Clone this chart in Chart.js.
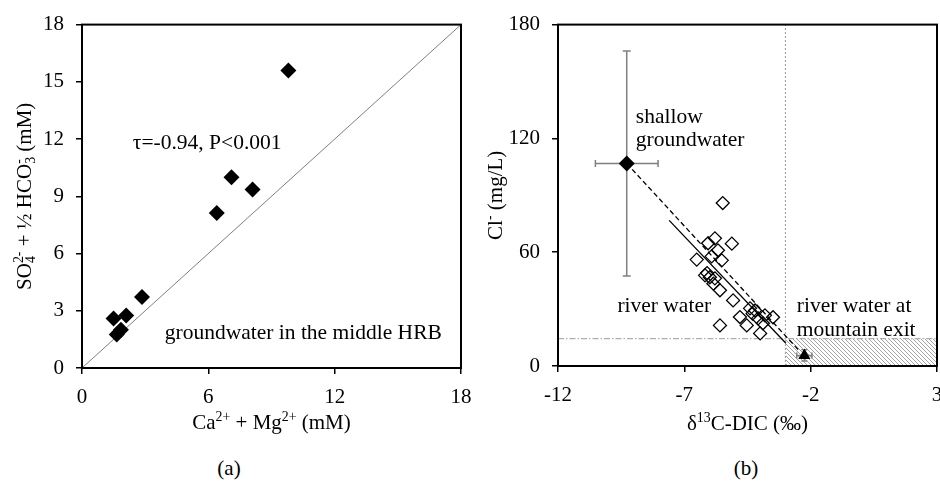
<!DOCTYPE html>
<html>
<head>
<meta charset="utf-8">
<script src="https://cdn.jsdelivr.net/npm/chart.js@4/dist/chart.umd.min.js"></script>
<style>
html, body { margin: 0; padding: 0; background: #fff; width: 940px; height: 492px; overflow: hidden; }
canvas { position: absolute; top: 0; }
#chartA { left: 0; }
#chartB { left: 470px; }
.cap { position: absolute; top: 456px; font: 21px 'Liberation Serif', serif; color: #000; transform: translateX(-50%); }
</style>
</head>
<body>
<canvas id="chartA" width="500" height="450"></canvas>
<canvas id="chartB" width="500" height="450"></canvas>
<div class="cap" style="left:229px">(a)</div>
<div class="cap" style="left:746px">(b)</div>
<script>
// ===== DATA (a) =====
const caMg = [9.8, 7.1, 8.1, 6.4, 2.85, 1.5, 2.1, 1.85, 1.65];
const so4Hco3 = [15.6, 10.0, 9.35, 8.13, 3.72, 2.6, 2.75, 2.0, 1.75];
const oneToOne = [0, 18];
const ticksA = [0, 6, 12, 18];
const ticksAY = [0, 3, 6, 9, 12, 15, 18];

// ===== DATA (b) =====
const riverD13C = [-5.48, -5.79, -6.06, -5.12, -5.67, -6.51, -5.52, -6.18, -5.99, -5.79, -5.59, -5.07, -4.40, -4.20,
  -4.80, -4.08, -3.81, -3.49, -3.89, -5.59, -4.53, -4.00, -5.92, -6.10, -5.85, -4.30];
const riverCl = [85.9, 67.3, 64.7, 64.5, 61.0, 56.1, 55.7, 47.8, 46.8, 46.2, 39.9, 34.6, 30.4, 29.3,
  25.8, 25.1, 26.7, 25.7, 22.5, 21.4, 21.4, 17.2, 57.8, 49.0, 43.4, 27.6];
const gwD13C = [-9.28], gwCl = [106.8], gwD13CErr = [1.24], gwClErr = [59.3];
const exitD13C = [-2.25], exitCl = [5.6], exitD13CErr = [0.3], exitClErr = [3];
const mixLineX = [-9.28, -2.45], mixLineY = [106.8, 8.0];
const fitLineX = [-7.6, -2.98], fitLineY = [76.8, 12.0];
const exitBoundD13C = -3, exitBoundCl = 14.4;
const ticksB = [-12, -7, -2, 3];
const ticksBY = [0, 60, 120, 180];

const FONT = "'Liberation Serif', serif";
const SIZE = 21;
const pts = (xs, ys) => xs.map((x, i) => ({ x, y: ys[i] }));

// rich text: [text, shift(-1 sub, 0 normal, 1 sup), stackOnPrev]
function drawRich(ctx, parts, cx, cy, rot) {
  ctx.save(); ctx.translate(cx, cy); ctx.rotate(rot);
  ctx.fillStyle = '#000'; ctx.textBaseline = 'alphabetic'; ctx.textAlign = 'left';
  const fontOf = p => (p[1] ? SIZE * 0.66 : SIZE) + 'px ' + FONT;
  let x = 0, prevX = 0, prevW = 0;
  const placed = parts.map(p => {
    ctx.font = fontOf(p);
    const w = ctx.measureText(p[0]).width;
    let px;
    if (p[2]) { px = prevX; x = prevX + Math.max(prevW, w); }
    else { px = x; x += w; }
    prevX = px; prevW = w;
    return { p, px };
  });
  const total = x;
  placed.forEach(({ p, px }) => {
    ctx.font = fontOf(p);
    const dy = p[1] === 1 ? -SIZE * 0.38 : p[1] === -1 ? SIZE * 0.2 : 0;
    ctx.fillText(p[0], px - total / 2, SIZE * 0.33 + dy);
  });
  ctx.restore();
}

// frame, axis titles and text notes
const frame = {
  id: 'frame',
  afterDatasetsDraw(chart) {
    const { ctx, chartArea: a } = chart;
    ctx.save(); ctx.strokeStyle = '#000'; ctx.lineWidth = 2;
    ctx.strokeRect(a.left, a.top, a.width, a.height); ctx.restore();
  },
  afterDraw(chart, args, opts) {
    const { ctx, scales, chartArea: a } = chart;
    ctx.save(); ctx.fillStyle = '#000'; ctx.font = '21.5px ' + FONT;
    ctx.textAlign = 'left'; ctx.textBaseline = 'middle';
    (opts.notes || []).forEach(n => ctx.fillText(n.text, scales.x.getPixelForValue(n.x), scales.y.getPixelForValue(n.y)));
    ctx.restore();
    drawRich(ctx, opts.xTitle, (a.left + a.right) / 2, opts.xTitleY, 0);
    drawRich(ctx, opts.yTitle, opts.yTitleX, (a.top + a.bottom) / 2, -Math.PI / 2);
  }
};

function axis(min, max, list, fitSize, horiz) {
  return {
    type: 'linear', min, max,
    afterBuildTicks: s => { s.ticks = list.map(v => ({ value: v })); },
    afterFit: s => { if (horiz) s.height = fitSize; else s.width = fitSize; },
    ticks: { color: '#000', font: { family: FONT, size: SIZE }, padding: horiz ? 11 : 12 },
    grid: { drawOnChartArea: false, drawTicks: true, tickLength: 6, color: '#000', lineWidth: 1.5 },
    border: { display: true, color: '#000', width: 2 },
    title: { display: false }
  };
}

function lineSet(data, color, width, dash) {
  return { data, showLine: true, borderColor: color, borderWidth: width, borderDash: dash || [], pointRadius: 0, fill: false };
}

// ===== CHART (a) =====
new Chart(document.getElementById('chartA'), {
  type: 'scatter',
  data: {
    datasets: [
      { data: pts(caMg, so4Hco3), pointStyle: 'rectRot', pointRadius: 8, backgroundColor: '#000', borderColor: '#000', borderWidth: 0 },
      lineSet(pts(oneToOne, oneToOne), '#7f7f7f', 1)
    ]
  },
  options: {
    responsive: false, animation: false, events: [],
    layout: { padding: { top: 24, right: 39, left: 0, bottom: 0 } },
    scales: {
      x: axis(0, 18, ticksA, 82, true),
      y: axis(0, 18, ticksAY, 82, false)
    },
    plugins: {
      legend: { display: false }, tooltip: { enabled: false },
      frame: {
        xTitle: [['Ca', 0], ['2+', 1], [' + Mg', 0], ['2+', 1], [' (mM)', 0]], xTitleY: 422,
        yTitle: [['SO', 0], ['4', -1], ['2-', 1, true], [' + ½ HCO', 0], ['3', -1], ['-', 1, true], [' (mM)', 0]], yTitleX: 24,
        notes: [
          { text: 'τ=-0.94, P<0.001', x: 2.41, y: 11.8 },
          { text: 'groundwater in the middle HRB', x: 3.93, y: 1.82 }
        ]
      }
    }
  },
  plugins: [frame]
});

// ===== CHART (b) =====
function hatch() {
  const c = document.createElement('canvas'); c.width = 4; c.height = 4;
  const g = c.getContext('2d'); g.strokeStyle = '#8c8c8c'; g.lineWidth = 0.8;
  g.beginPath(); g.moveTo(0, 0); g.lineTo(4, 4); g.moveTo(3, -1); g.lineTo(5, 1); g.moveTo(-1, 3); g.lineTo(1, 5); g.stroke();
  return g.createPattern(c, 'repeat');
}

const errV = (x, y, e, r) => ({ data: [{ x, y: y - e }, { x, y: y + e }], showLine: true, borderColor: '#7f7f7f', borderWidth: 1.5, pointStyle: 'line', pointRadius: r, pointBorderColor: '#7f7f7f', pointBorderWidth: 1.5 });
const errH = (x, y, e, r) => ({ data: [{ x: x - e, y }, { x: x + e, y }], showLine: true, borderColor: '#7f7f7f', borderWidth: 1.5, pointStyle: 'line', pointRotation: 90, pointRadius: r, pointBorderColor: '#7f7f7f', pointBorderWidth: 1.5 });

new Chart(document.getElementById('chartB'), {
  type: 'scatter',
  data: {
    datasets: [
      { data: pts(gwD13C, gwCl), pointStyle: 'rectRot', pointRadius: 8, backgroundColor: '#000', borderColor: '#000', borderWidth: 0 },
      { data: pts(exitD13C, exitCl), pointStyle: 'triangle', pointRadius: 7, backgroundColor: '#000', borderColor: '#000', borderWidth: 0 },
      { data: pts(riverD13C, riverCl), pointStyle: 'rectRot', pointRadius: 6.5, backgroundColor: 'rgba(0,0,0,0)', borderColor: '#000', borderWidth: 1.3 },
      errV(gwD13C[0], gwCl[0], gwClErr[0], 4),
      errH(gwD13C[0], gwCl[0], gwD13CErr[0], 3.5),
      errV(exitD13C[0], exitCl[0], exitClErr[0], 3),
      errH(exitD13C[0], exitCl[0], exitD13CErr[0], 3),
      lineSet(pts(mixLineX, mixLineY), '#000', 1.3, [5, 3]),
      lineSet(pts(fitLineX, fitLineY), '#000', 1.3),
      lineSet(pts([exitBoundD13C, exitBoundD13C], [0, 180]), '#9a9a9a', 1, [2, 2]),
      lineSet(pts([-12, 3], [exitBoundCl, exitBoundCl]), '#9a9a9a', 1, [6, 2, 1.5, 2]),
      { data: pts([exitBoundD13C, 3], [exitBoundCl, exitBoundCl]), showLine: true, borderWidth: 0, pointRadius: 0, fill: 'origin', backgroundColor: hatch() }
    ]
  },
  options: {
    responsive: false, animation: false, events: [],
    layout: { padding: { top: 24, right: 33, left: 0, bottom: 0 } },
    scales: {
      x: axis(-12, 3, ticksB, 84, true),
      y: axis(0, 180, ticksBY, 88, false)
    },
    plugins: {
      legend: { display: false }, tooltip: { enabled: false },
      frame: {
        xTitle: [['δ', 0], ['13', 1], ['C-DIC (‰)', 0]], xTitleY: 423,
        yTitle: [['Cl', 0], ['-', 1], [' (mg/L)', 0]], yTitleX: 25,
        notes: [
          { text: 'shallow', x: -8.92, y: 131.2 },
          { text: 'groundwater', x: -8.92, y: 119.2 },
          { text: 'river water', x: -9.65, y: 31.4 },
          { text: 'river water at', x: -2.55, y: 31.4 },
          { text: 'mountain exit', x: -2.55, y: 18.8 }
        ]
      }
    }
  },
  plugins: [frame]
});
</script>
</body>
</html>
